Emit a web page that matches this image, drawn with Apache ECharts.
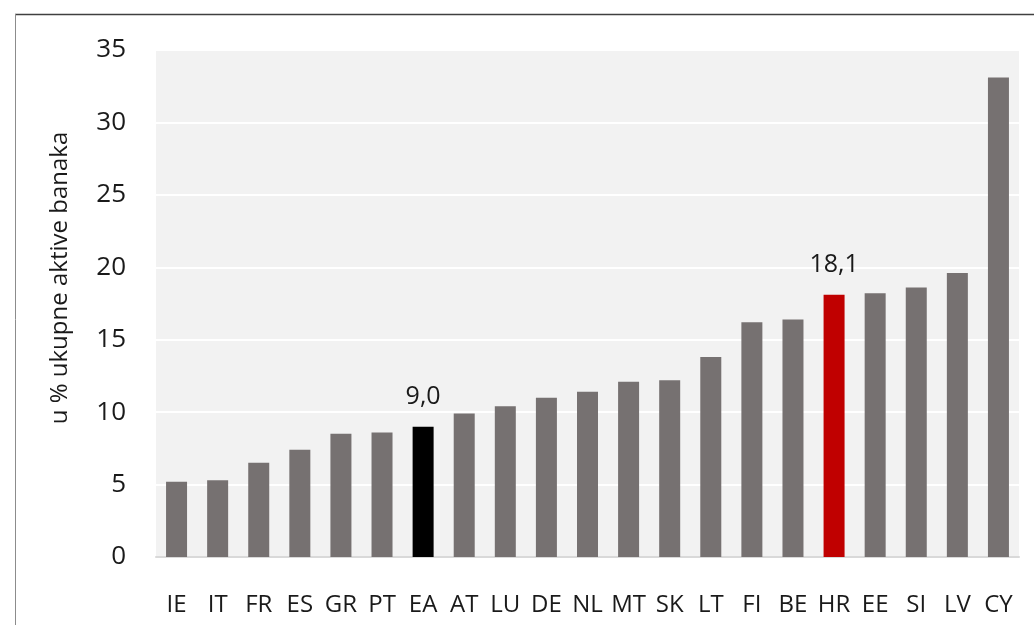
<!DOCTYPE html>
<html>
<head>
<meta charset="utf-8">
<script src="https://cdn.jsdelivr.net/npm/echarts@6/dist/echarts.min.js"></script>
<style>html,body{margin:0;padding:0;background:#fff;}#c{width:1034px;height:625px;}</style>
</head>
<body>
<div id="c"></div>
<script>
const categories = ['IE','IT','FR','ES','GR','PT','EA','AT','LU','DE','NL','MT','SK','LT','FI','BE','HR','EE','SI','LV','CY'];
const values = [5.2,5.3,6.5,7.4,8.5,8.6,9.0,9.9,10.4,11.0,11.4,12.1,12.2,13.8,16.2,16.4,18.1,18.2,18.6,19.6,33.1];
const yTicks = [0,5,10,15,20,25,30,35];
const highlight = {EA:'#000000', HR:'#c00000'};
const labelled = ['EA','HR'];
const yName = 'u % ukupne aktive banaka';

const font = 'Open Sans';
const chart = echarts.init(document.getElementById('c'), null, {renderer:'canvas'});
chart.setOption({
  animation:false,
  backgroundColor:'#ffffff',
  grid:{left:156, right:15, top:50, bottom:68, backgroundColor:'#f2f2f2', show:true, borderWidth:0},
  xAxis:{
    type:'category', data:categories,
    axisLine:{show:true, lineStyle:{color:'#d9d9d9', width:2}},
    axisTick:{show:false},
    axisLabel:{color:'#1a1a1a', fontSize:24, fontFamily:font, margin:36, interval:0}
  },
  yAxis:{
    type:'value', min:0, max:35, interval:5,
    axisLine:{show:false}, axisTick:{show:false},
    splitLine:{show:true, lineStyle:{color:'#ffffff', width:2}},
    axisLabel:{color:'#1a1a1a', fontSize:26, fontFamily:font, margin:30,
      formatter:function(v){return yTicks.indexOf(v)>=0 ? String(v) : '';}}
  },
  graphic:[
    {type:'line', shape:{x1:15, y1:14.5, x2:1034, y2:14.5}, style:{stroke:'#404040', lineWidth:1.5}},
    {type:'line', shape:{x1:15.5, y1:14, x2:15.5, y2:625}, style:{stroke:'#8c8c8c', lineWidth:1}},
    {type:'text', x:60, y:278, rotation:Math.PI/2,
      style:{text:yName, fill:'#1a1a1a', fontSize:24, fontFamily:font, textAlign:'center', textVerticalAlign:'middle'}}
  ],
  series:[{
    type:'bar',
    barWidth:21,
    data:categories.map(function(c,i){
      return {
        value:values[i],
        itemStyle:{color:highlight[c] || '#767171'},
        label:{show:labelled.indexOf(c)>=0}
      };
    }),
    label:{position:'top', distance:17, color:'#1a1a1a', fontSize:25, fontFamily:font,
      formatter:function(p){return p.value.toFixed(1).replace('.', ',');}}
  }]
});
</script>
</body>
</html>
